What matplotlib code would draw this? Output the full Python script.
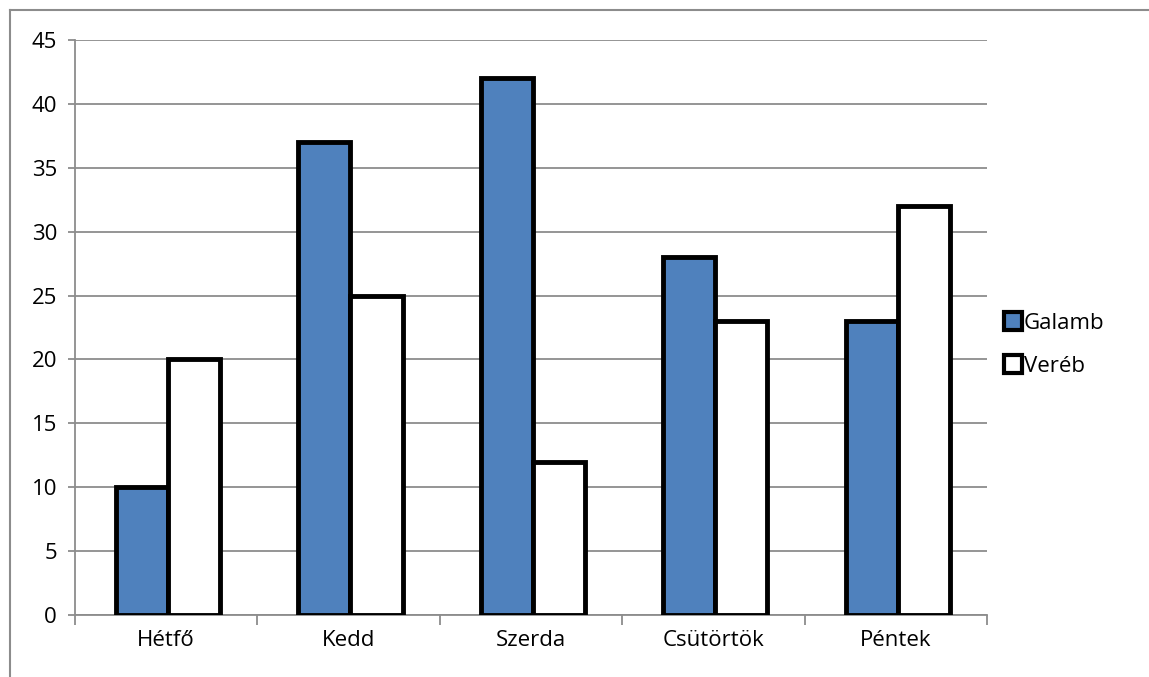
import matplotlib.pyplot as plt
from matplotlib.lines import Line2D
import numpy as np

days = ["Hétfő", "Kedd", "Szerda", "Csütörtök", "Péntek"]
galamb = [10, 37, 42, 28, 23]
vereb = [20, 25, 12, 23, 32]
yticks = [0, 5, 10, 15, 20, 25, 30, 35, 40, 45]

plt.rcParams["font.family"] = ["Open Sans", "DejaVu Sans"]

W, H = 1149, 677
fig = plt.figure(figsize=(W / 100, H / 100), dpi=100)
ax = fig.add_axes([75 / W, 1 - 615 / H, (987 - 75) / W, (615 - 40) / H])

grid_c = "#8c8c8c"
x = np.arange(len(days))
w = 1 / 3.5
ax.bar(x - w / 2 + 0.01, galamb, w, color="#4f81bd", edgecolor="black", linewidth=3.5,
       label="Galamb", zorder=3)
ax.bar(x + w / 2 + 0.01, vereb, w, color="white", edgecolor="black", linewidth=3.5,
       label="Veréb", zorder=3)

ax.set_xlim(-0.5, len(days) - 0.5)
ax.set_ylim(0, 45)
ax.set_yticks(yticks)
ax.set_xticks(x)
ax.set_xticklabels(days)
ax.set_xticks(np.arange(-0.5, len(days)), minor=True)
ax.yaxis.grid(True, color=grid_c, linewidth=1.3, zorder=0)
ax.set_axisbelow(True)
for s in ["top", "right"]:
    ax.spines[s].set_visible(False)
for s in ["left", "bottom"]:
    ax.spines[s].set_color(grid_c)
    ax.spines[s].set_linewidth(1.3)
ax.tick_params(axis="y", length=5, width=1.3, color=grid_c, labelsize=16, pad=8)
ax.tick_params(axis="x", which="major", length=0, labelsize=16, pad=11)
ax.tick_params(axis="x", which="minor", length=7, width=1.3, color=grid_c)

handles = [
    Line2D([], [], marker="s", linestyle="none", markersize=13,
           markerfacecolor="#4f81bd", markeredgecolor="black", markeredgewidth=3),
    Line2D([], [], marker="s", linestyle="none", markersize=13,
           markerfacecolor="white", markeredgecolor="black", markeredgewidth=3),
]
fig.legend(handles, ["Galamb", "Veréb"], loc="center left",
           bbox_to_anchor=(984 / W, 1 - 345 / H), frameon=False, fontsize=16,
           handlelength=0.8, handletextpad=0.1, labelspacing=1.0)

# outer chart border (left and top visible)
fig.add_artist(Line2D([10 / W, 10 / W], [0, 1 - 10 / H], transform=fig.transFigure,
                      color=grid_c, linewidth=1.5))
fig.add_artist(Line2D([10 / W, 1], [1 - 10 / H, 1 - 10 / H], transform=fig.transFigure,
                      color=grid_c, linewidth=1.5))

fig.savefig("out.png", dpi=100)
